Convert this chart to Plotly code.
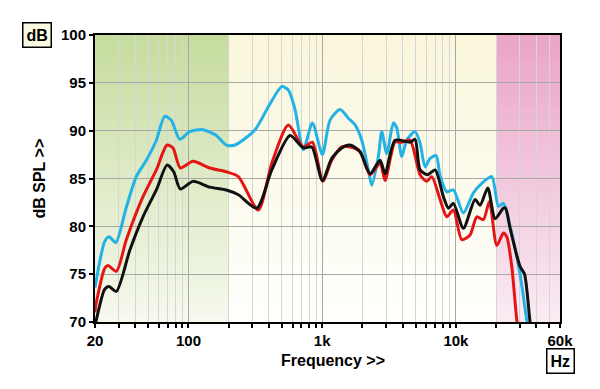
import plotly.graph_objects as go
import math

# ---------------- data ----------------
freq_blue = [20, 20.45, 23.6, 25.5, 28.6, 34.3, 40.7, 48.4, 57.5, 66.4, 74.4, 86.0, 102.2, 128.5,
             161.6, 191.9, 222.9, 314.6, 395.7, 498.4, 558.5, 626.6, 722.9, 844.3, 1002.6,
             1144.5, 1360, 1569, 1762, 1976, 2214, 2347, 2630, 2789, 3039, 3405, 3610, 3934,
             4288, 4948, 5393, 5879, 6408, 7107, 7612, 8542, 9571, 11368, 13501, 15607,
             18540, 20770, 22645, 25407, 28512, 30180, 33870, 35000]
spl_blue = [73.6, 74.4, 78.4, 78.9, 78.3, 82.0, 85.2, 86.9, 89.0, 91.5, 91.1, 89.1, 89.9, 90.1,
            89.5, 88.5, 88.5, 90.1, 92.5, 94.6, 94.25, 92.2, 88.0, 90.8, 87.5,
            91.1, 92.2, 91.3, 90.6, 89.0, 85.9, 84.3, 87.3, 89.9, 87.6, 90.8, 90.3, 87.3,
            89.0, 89.9, 88.7, 86.2, 87.1, 87.4, 85.3, 83.6, 83.8, 81.4, 83.5, 84.5,
            85.2, 82.1, 82.4, 80.0, 76.8, 75.0, 70.2, 69.0]

freq_red = [20, 20.2, 23.6, 25.0, 28.9, 34.3, 45.7, 57.5, 69.1, 76.6, 86.9, 108.1, 144.2, 191.9,
            236.0, 333, 419.6, 558.5, 722.9, 844.3, 1009.6, 1178.6, 1400, 1616, 1919, 2280,
            2708, 2952, 3506, 3934, 4539, 5393, 6054, 6598, 7612, 8542, 9571, 11058, 12755,
            14315, 16044, 17788, 20207, 22645, 24000, 26160, 28512, 29500]
spl_red = [71.0, 71.6, 75.6, 75.9, 75.3, 78.6, 83.1, 85.9, 88.5, 88.2, 86.1, 86.8, 86.1, 85.7,
           85.2, 81.7, 86.6, 90.6, 88.3, 88.8, 84.7, 86.9, 88.3, 88.3, 87.8, 85.4,
           86.6, 84.8, 88.8, 88.8, 89.0, 85.4, 84.7, 85.2, 82.8, 81.0, 81.7, 78.6, 79.1,
           81.0, 80.7, 82.6, 78.0, 79.3, 78.9, 75.8, 70.2, 69.0]

freq_black = [20, 20.45, 23.6, 25.5, 28.9, 36.4, 45.7, 57.5, 69.1, 77.5, 86.9, 108.1, 144.2,
              191.9, 236.0, 324, 419.6, 575, 722.9, 835.5, 1002.6, 1178.6, 1400, 1616, 1919,
              2280, 2708, 2952, 3506, 4539, 4948, 5393, 6117, 6985, 8058, 8781, 9571, 11368,
              13902, 15157, 17306, 19625, 22645, 23500, 25407, 30180, 32600, 35850, 37000]
spl_black = [69.6, 70.2, 73.4, 73.7, 73.2, 77.5, 81.0, 83.8, 86.4, 85.7, 83.9, 84.7, 84.1,
             83.8, 83.3, 81.9, 85.9, 89.5, 88.2, 88.3, 84.8, 87.1, 88.2, 88.5, 87.8,
             85.5, 86.9, 85.5, 89.0, 88.8, 89.1, 85.9, 85.4, 85.9, 83.1, 81.9, 82.4, 79.8,
             82.8, 82.2, 84.0, 80.8, 81.9, 81.9, 79.8, 75.8, 75.0, 70.0, 69.0]

x_major_ticks = [20, 100, 1000, 10000, 60000]
x_major_text = ["20", "100", "1k", "10k", "60k"]
x_minor_ticks = [30, 40, 50, 60, 70, 80, 90,
                 200, 300, 400, 500, 600, 700, 800, 900,
                 2000, 3000, 4000, 5000, 6000, 7000, 8000, 9000,
                 20000, 30000, 40000, 50000]
y_ticks = [70, 75, 80, 85, 90, 95, 100]
y_range = [70, 100]
x_range = [20, 60000]

band_edges = [20, 200, 20000, 60000]
band_top = [(198, 220, 158), (249, 246, 218), (234, 164, 199)]
band_bottom = [(246, 249, 238), (255, 255, 253), (250, 236, 243)]

# ---------------- figure ----------------
fig = go.Figure()

# gradient background bands (stacked strips)
shapes = []
N = 48
for b in range(len(band_edges) - 1):
    t, bt = band_top[b], band_bottom[b]
    for i in range(N):
        f = (i + 0.5) / N
        c = tuple(int(round(bt[k] + (t[k] - bt[k]) * f)) for k in range(3))
        y0 = y_range[0] + (y_range[1] - y_range[0]) * i / N
        y1 = y_range[0] + (y_range[1] - y_range[0]) * (i + 1.3) / N
        shapes.append(dict(type="rect", xref="x", yref="y",
                           x0=band_edges[b], x1=band_edges[b + 1],
                           y0=y0, y1=min(y1, y_range[1]),
                           fillcolor="rgb(%d,%d,%d)" % c,
                           line=dict(width=0), layer="below"))

series = [
    (freq_blue, spl_blue, "#22b2e6"),
    (freq_red, spl_red, "#e51515"),
    (freq_black, spl_black, "#111111"),
]
for fx, fy, col in series:
    fig.add_trace(go.Scatter(x=fx, y=fy, mode="lines",
                             line=dict(color=col, width=3, shape="spline", smoothing=0.7),
                             hoverinfo="skip", showlegend=False))

FONT = "Arial, Liberation Sans"
tickfont = dict(family=FONT, size=15, color="black", weight="bold")

fig.update_layout(
    width=592, height=381,
    margin=dict(l=87, r=40, t=27, b=67),
    paper_bgcolor="white",
    plot_bgcolor="white",
    shapes=shapes,
    xaxis=dict(
        type="log", automargin=False,
        range=[math.log10(x_range[0]), math.log10(x_range[1])],
        tickmode="array", tickvals=x_major_ticks, ticktext=x_major_text,
        ticks="outside", ticklen=4, tickcolor="black", tickwidth=1.5,
        tickfont=tickfont,
        showgrid=True, gridcolor="#a8a8a8", gridwidth=1,
        minor=dict(tickmode="array", tickvals=x_minor_ticks, ticks="outside",
                   ticklen=4, tickcolor="black", tickwidth=1.5,
                   showgrid=True, gridcolor="#d6d6d6", gridwidth=1),
        showline=True, linecolor="black", linewidth=2, mirror=True,
        zeroline=False,
    ),
    yaxis=dict(
        range=y_range, automargin=False,
        tickmode="array", tickvals=y_ticks,
        ticks="outside", ticklen=4, tickcolor="black", tickwidth=1.5,
        tickfont=tickfont,
        showgrid=True, gridcolor="#a8a8a8", gridwidth=1,
        showline=True, linecolor="black", linewidth=2, mirror=True,
        zeroline=False,
    ),
    annotations=[
        dict(text="dB SPL >>", xref="paper", yref="paper", x=0, y=0.5,
             xanchor="center", yanchor="middle", xshift=-56, textangle=-90,
             showarrow=False,
             font=dict(family=FONT, size=16, color="black", weight="bold")),
        dict(text="Frequency >>", xref="paper", yref="paper", x=0.512, y=0,
             xanchor="center", yanchor="middle", yshift=-38, showarrow=False,
             font=dict(family=FONT, size=16, color="black", weight="bold")),
        dict(text="dB", xref="paper", yref="paper", x=0, y=1,
             xanchor="center", yanchor="middle", xshift=-58, showarrow=False,
             bgcolor="#fbfbe2", bordercolor="black", borderwidth=1.5, borderpad=3,
             font=dict(family=FONT, size=16, color="black", weight="bold")),
        dict(text="Hz", xref="paper", yref="paper", x=1, y=0,
             xanchor="center", yanchor="middle", yshift=-39, showarrow=False,
             bgcolor="white", bordercolor="black", borderwidth=1.5, borderpad=3,
             font=dict(family=FONT, size=16, color="black", weight="bold")),
    ],
)

fig.write_html("out.html")
